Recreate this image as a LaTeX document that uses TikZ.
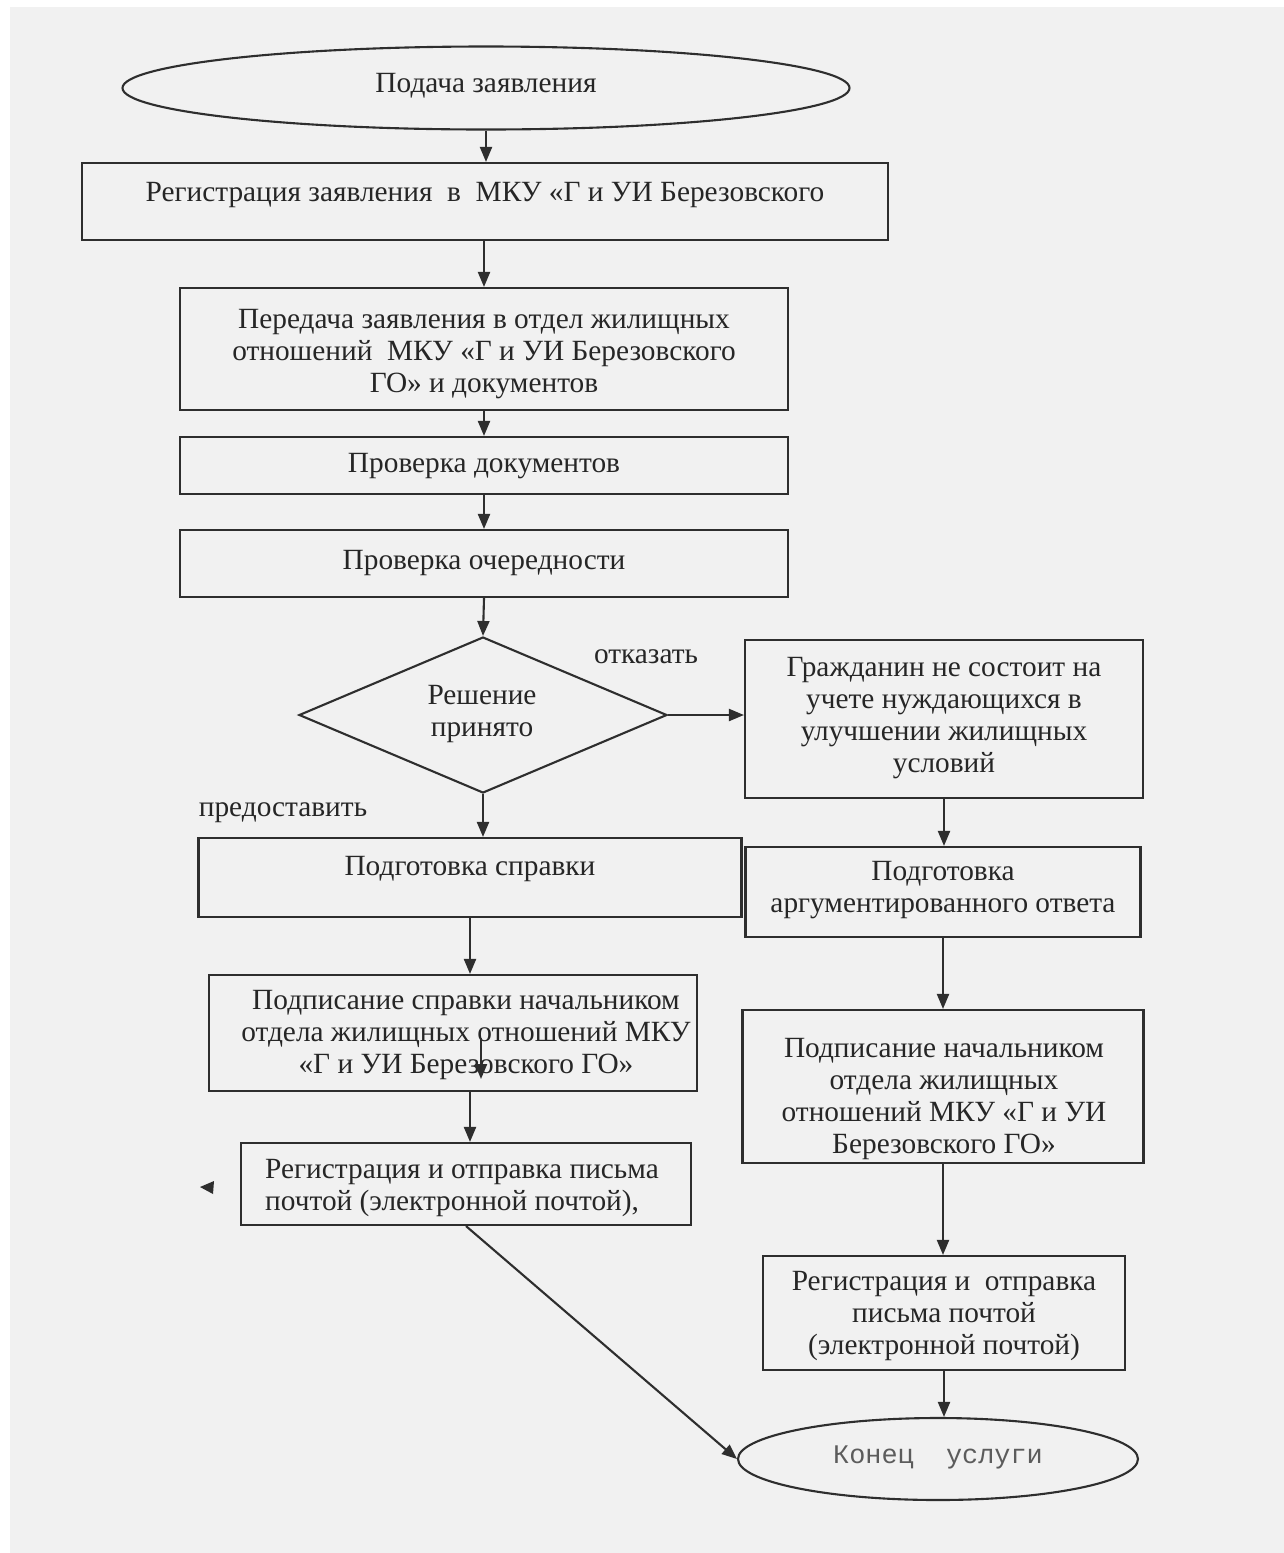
\documentclass[tikz,border=0pt]{standalone}
\usepackage{fontspec}
\setmainfont{Liberation Serif}
\newfontfamily\monofam{Liberation Mono}
\usetikzlibrary{shapes.geometric,arrows.meta}

\definecolor{paper}{gray}{0.945}
\definecolor{ink}{gray}{0.18}
\definecolor{txtc}{gray}{0.15}

\begin{document}
\begin{tikzpicture}[x=0.02cm,y=-0.02cm,
  sz/.style 2 args={minimum width=#1*0.02cm, minimum height=#2*0.02cm},
  box/.style={draw=ink, line width=1.2pt, rectangle, inner sep=0pt},
  oval/.style={draw=ink, line width=1.2pt, ellipse, inner sep=0pt},
  decision/.style={draw=ink, line width=1.2pt, diamond, inner sep=0pt},
  txt/.style={align=center, inner sep=0pt, text=txtc, font=\fontsize{16.7}{18.1}\selectfont},
  arr/.style={draw=ink, line width=1.2pt, -{Triangle[length=0.3cm, width=0.24cm]}}
]
% page
\useasboundingbox (0,0) rectangle (1284,1553);
\fill[white] (0,0) rectangle (1284,1553);
\fill[paper] (10,7) rectangle (1284,1553);

% left column
\node[oval, sz={727}{83}] (podacha) at (486,88) {};
\node[txt] (podacha-t) at (486,86) {Подача заявления};

\node[box, sz={806}{77}] (reg1) at (485,201.5) {};
\node[txt] (reg1-t) at (485,195) {Регистрация заявления\ \ в\ \ МКУ «Г и УИ Березовского};

\node[box, sz={608}{122}] (pered) at (484,349) {};
\node[txt] (pered-t) at (484,354) {Передача заявления в отдел жилищных\\отношений\ \ МКУ «Г и УИ Березовского\\ГО» и документов};

\node[box, sz={608}{57}] (provdoc) at (484,465.5) {};
\node[txt] (provdoc-t) at (484,466) {Проверка документов};

\node[box, sz={608}{67}] (provoch) at (484,563.5) {};
\node[txt] (provoch-t) at (484,563) {Проверка очередности};

\node[decision, sz={368}{156}] (dec) at (483,715) {};
\node[txt] (dec-t) at (482,714) {Решение\\принято};

\node[txt] (otk) at (646,657) {отказать};
\node[txt] (pred) at (283,813) {предоставить};

\node[box, sz={543}{79}] (podsprav) at (470,877.5) {};
\node[txt] (podsprav-t) at (470,869) {Подготовка справки};

\node[box, sz={488}{116}] (podpsprav) at (453,1033) {};
\node[txt] (podpsprav-t) at (466,1035) {Подписание справки начальником\\отдела жилищных отношений МКУ\\«Г и УИ Березовского ГО»};

\node[box, sz={450}{82}] (regleft) at (466,1184) {};
\node[txt, align=left] (regleft-t) at (462,1188) {Регистрация и отправка письма\\почтой (электронной почтой),};

% right column
\node[box, sz={398}{158}] (grazh) at (944,719) {};
\node[txt] (grazh-t) at (944,718) {Гражданин не состоит на\\учете нуждающихся в\\улучшении жилищных\\условий};

\node[box, sz={395}{90}] (podgarg) at (943,892) {};
\node[txt] (podgarg-t) at (943,890) {Подготовка\\аргументированного ответа};

\node[box, sz={401}{153}] (podpnach) at (943,1086.5) {};
\node[txt] (podpnach-t) at (944,1099) {Подписание начальником\\отдела жилищных\\отношений МКУ «Г и УИ\\Березовского ГО»};

\node[box, sz={362}{114}] (regright) at (944,1313) {};
\node[txt] (regright-t) at (944,1316) {Регистрация и\ \ отправка\\письма почтой\\(электронной почтой)};

\node[oval, sz={400}{82}] (konec) at (938,1459) {};
\node[inner sep=0pt, text=txtc!75!white, font=\monofam\fontsize{15.3}{18}\selectfont] (konec-t) at (938,1457) {Конец\ \ услуги};

% connectors
\draw[arr] (podacha.south) -- (podacha.south |- reg1.north);
\draw[arr] (pered.north |- reg1.south) -- (pered.north);
\draw[arr] (pered.south) -- (provdoc.north);
\draw[arr] (provdoc.south) -- (provoch.north);
\draw[arr] (provoch.south) -- (dec.north);
\draw[arr] (dec.east) -- (dec.east -| grazh.west);
\draw[arr] (dec.south) -- (dec.south |- podsprav.north);
\draw[arr] (podsprav.south) -- (podsprav.south |- podpsprav.north);
\draw[arr] (podsprav.south |- podpsprav.south) -- (podsprav.south |- regleft.north);
\draw[arr] (regleft.south) -- (konec.west);
\draw[arr] (grazh.south) -- (grazh.south |- podgarg.north);
\draw[arr] (podgarg.south) -- (podgarg.south |- podpnach.north);
\draw[arr] (podpnach.south) -- (podpnach.south |- regright.north);
\draw[arr] (regright.south) -- (regright.south |- konec.north);

% short arrow crossing the signing box
\coordinate (s1) at (481,1038);
\coordinate (s2) at (481,1079);
\draw[arr] (s1) -- (s2);

% loose arrowhead left of the mailing box
\coordinate (tip) at (200,1187);
\fill[ink] (tip) -- ++(14,-6) -- ++(-1,13) -- cycle;
\end{tikzpicture}
\end{document}
